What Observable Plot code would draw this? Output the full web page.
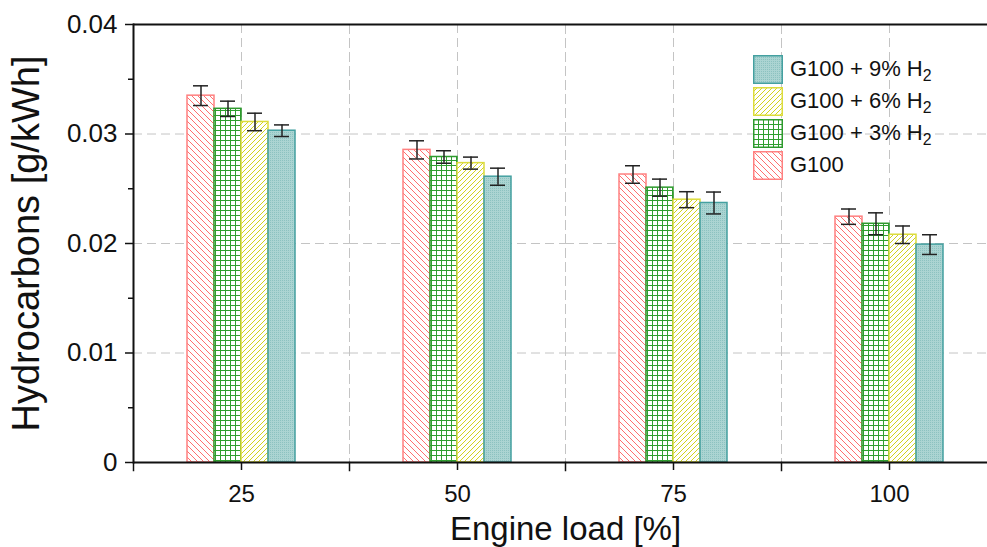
<!DOCTYPE html>
<html><head><meta charset="utf-8">
<script src="https://cdn.jsdelivr.net/npm/d3@7"></script>
<script src="https://cdn.jsdelivr.net/npm/@observablehq/plot@0.6"></script>
<style>
body{margin:0;background:#fff;}
#wrap{position:relative;width:987px;height:547px;overflow:hidden;}
#legend{position:absolute;left:753px;top:53px;font-family:"Liberation Sans",Arial,sans-serif;font-size:22px;color:#111;}
.row{display:flex;align-items:center;height:32px;}
.row svg{display:block;margin-right:7px;}
.row sub{font-size:0.72em;vertical-align:-0.3em;line-height:0;}
</style></head><body>
<svg style="position:absolute;width:0;height:0" aria-hidden="true">
<defs>
 <pattern id="pRed" patternUnits="userSpaceOnUse" width="6" height="6">
  <rect width="6" height="6" fill="#fff"/>
  <path d="M-1,-1 L7,7 M-1,5 L1,7 M5,-1 L7,1" stroke="#ff6f6f" stroke-width="1"/>
 </pattern>
 <pattern id="pGreen" patternUnits="userSpaceOnUse" width="5" height="5">
  <rect width="5" height="5" fill="#fff"/>
  <path d="M0,0.5 H5 M0.5,0 V5" stroke="#2f9e2f" stroke-width="1"/>
 </pattern>
 <pattern id="pYellow" patternUnits="userSpaceOnUse" width="5" height="5">
  <rect width="5" height="5" fill="#fff"/>
  <path d="M-1,6 L6,-1 M-1,1 L1,-1 M4,6 L6,4" stroke="#d2d21e" stroke-width="1"/>
 </pattern>
 <pattern id="pTeal" patternUnits="userSpaceOnUse" width="2" height="2">
  <rect width="2" height="2" fill="#abd4d2"/>
  <rect width="1" height="1" fill="#8cc2c0"/>
 </pattern>
</defs></svg>
<div id="wrap"><div id="legend"></div></div>
<script>
const loads = ["25", "50", "75", "100"];
const series = ["G100", "G100 + 3% H2", "G100 + 6% H2", "G100 + 9% H2"];
const g100    = [0.0335, 0.02855, 0.0263, 0.02245];
const g100Err = [0.0009, 0.00083, 0.0008, 0.0007];
const h3      = [0.0323, 0.0279, 0.0251, 0.0218];
const h3Err   = [0.0007, 0.00057, 0.00078, 0.001];
const h6      = [0.0311, 0.02734, 0.0240, 0.0208];
const h6Err   = [0.0008, 0.00055, 0.00073, 0.0008];
const h9      = [0.0303, 0.0261, 0.0237, 0.0199];
const h9Err   = [0.00053, 0.00078, 0.001, 0.0009];
const yTicks = [0, 0.01, 0.02, 0.03, 0.04];
const yMinor = [0.005, 0.015, 0.025, 0.035];

const values = [g100, h3, h6, h9];
const errs = [g100Err, h3Err, h6Err, h9Err];
const fills = ["url(#pRed)", "url(#pGreen)", "url(#pYellow)", "url(#pTeal)"];
const strokes = ["#ff8080", "#2e9a2e", "#dcdc3c", "#44a0a0"];
const legendLabels = ["G100", "G100 + 3% H<sub>2</sub>", "G100 + 6% H<sub>2</sub>", "G100 + 9% H<sub>2</sub>"];

const data = loads.flatMap((l, i) => series.map((s, j) => ({load: l, series: s, value: values[j][i], err: errs[j][i]})));

const grid = {stroke: "#c4c4c4", strokeOpacity: 1, strokeDasharray: "9,5", strokeWidth: 1};
const font = '"Liberation Sans", Arial, sans-serif';

const chart = Plot.plot({
  width: 987, height: 547,
  marginTop: 24, marginBottom: 85, marginLeft: 133, marginRight: 0,
  style: {fontFamily: font, color: "#111", background: "#fff"},
  fx: {domain: loads, range: [133, 997], padding: 0},
  x: {domain: series, paddingInner: 0, paddingOuter: 2, axis: null},
  y: {domain: [0, 0.04]},
  marks: [
    Plot.gridY({ticks: [0.01, 0.02, 0.03], ...grid}),
    Plot.gridFx({...grid}),
    Plot.frame({anchor: "left", ...grid}),
    ...series.map((s, j) => Plot.barY(data.filter(d => d.series === s), {
      fx: "load", x: "series", y: "value", fill: fills[j], stroke: strokes[j], strokeWidth: 1.5
    })),
    Plot.ruleX(data, {fx: "load", x: "series", y1: d => d.value - d.err, y2: d => d.value + d.err, stroke: "#222", strokeWidth: 1.5}),
    Plot.tickY(data, {fx: "load", x: "series", y: d => d.value + d.err, stroke: "#222", strokeWidth: 1.5, insetLeft: 6, insetRight: 6}),
    Plot.tickY(data, {fx: "load", x: "series", y: d => d.value - d.err, stroke: "#222", strokeWidth: 1.5, insetLeft: 6, insetRight: 6}),
    Plot.frame({anchor: "left", insetTop: 438, insetBottom: -8, stroke: "#111", strokeWidth: 1.5}),
    Plot.ruleY([0], {stroke: "#111", strokeWidth: 2}),
    Plot.ruleY([0.04], {stroke: "#111", strokeWidth: 2}),
    Plot.frame({anchor: "left", facetAnchor: "left", stroke: "#111", strokeWidth: 2}),
    Plot.axisY({ticks: yTicks, tickSize: 8, tickPadding: 8, fontSize: 26, strokeWidth: 1.5, label: null,
      tickFormat: d => d === 0 ? "0" : d3.format(".2f")(d)}),
    Plot.axisY({ticks: yMinor, tickSize: 5, strokeWidth: 1.5, label: null, tickFormat: () => ""}),
    Plot.axisY({ticks: [], label: "Hydrocarbons [g/kWh]", labelAnchor: "center", labelOffset: 121, labelArrow: "none", fontSize: 38}),
    Plot.axisFx({anchor: "bottom", tickSize: 8, tickPadding: 14, fontSize: 24, strokeWidth: 1.5, label: null}),
    Plot.axisFx({anchor: "bottom", ticks: [], label: "Engine load [%]", labelAnchor: "center", labelOffset: 77, labelArrow: "none", fontSize: 33})
  ]
});
document.getElementById("wrap").prepend(chart);

const legend = document.getElementById("legend");
for (let j = series.length - 1; j >= 0; j--) {
  const row = document.createElement("div");
  row.className = "row";
  row.innerHTML = `<svg width="30" height="29"><rect x="0.75" y="0.75" width="28.5" height="27.5" fill="${fills[j]}" stroke="${strokes[j]}" stroke-width="1.5"/></svg><span>${legendLabels[j]}</span>`;
  legend.appendChild(row);
}
</script>
</body></html>
